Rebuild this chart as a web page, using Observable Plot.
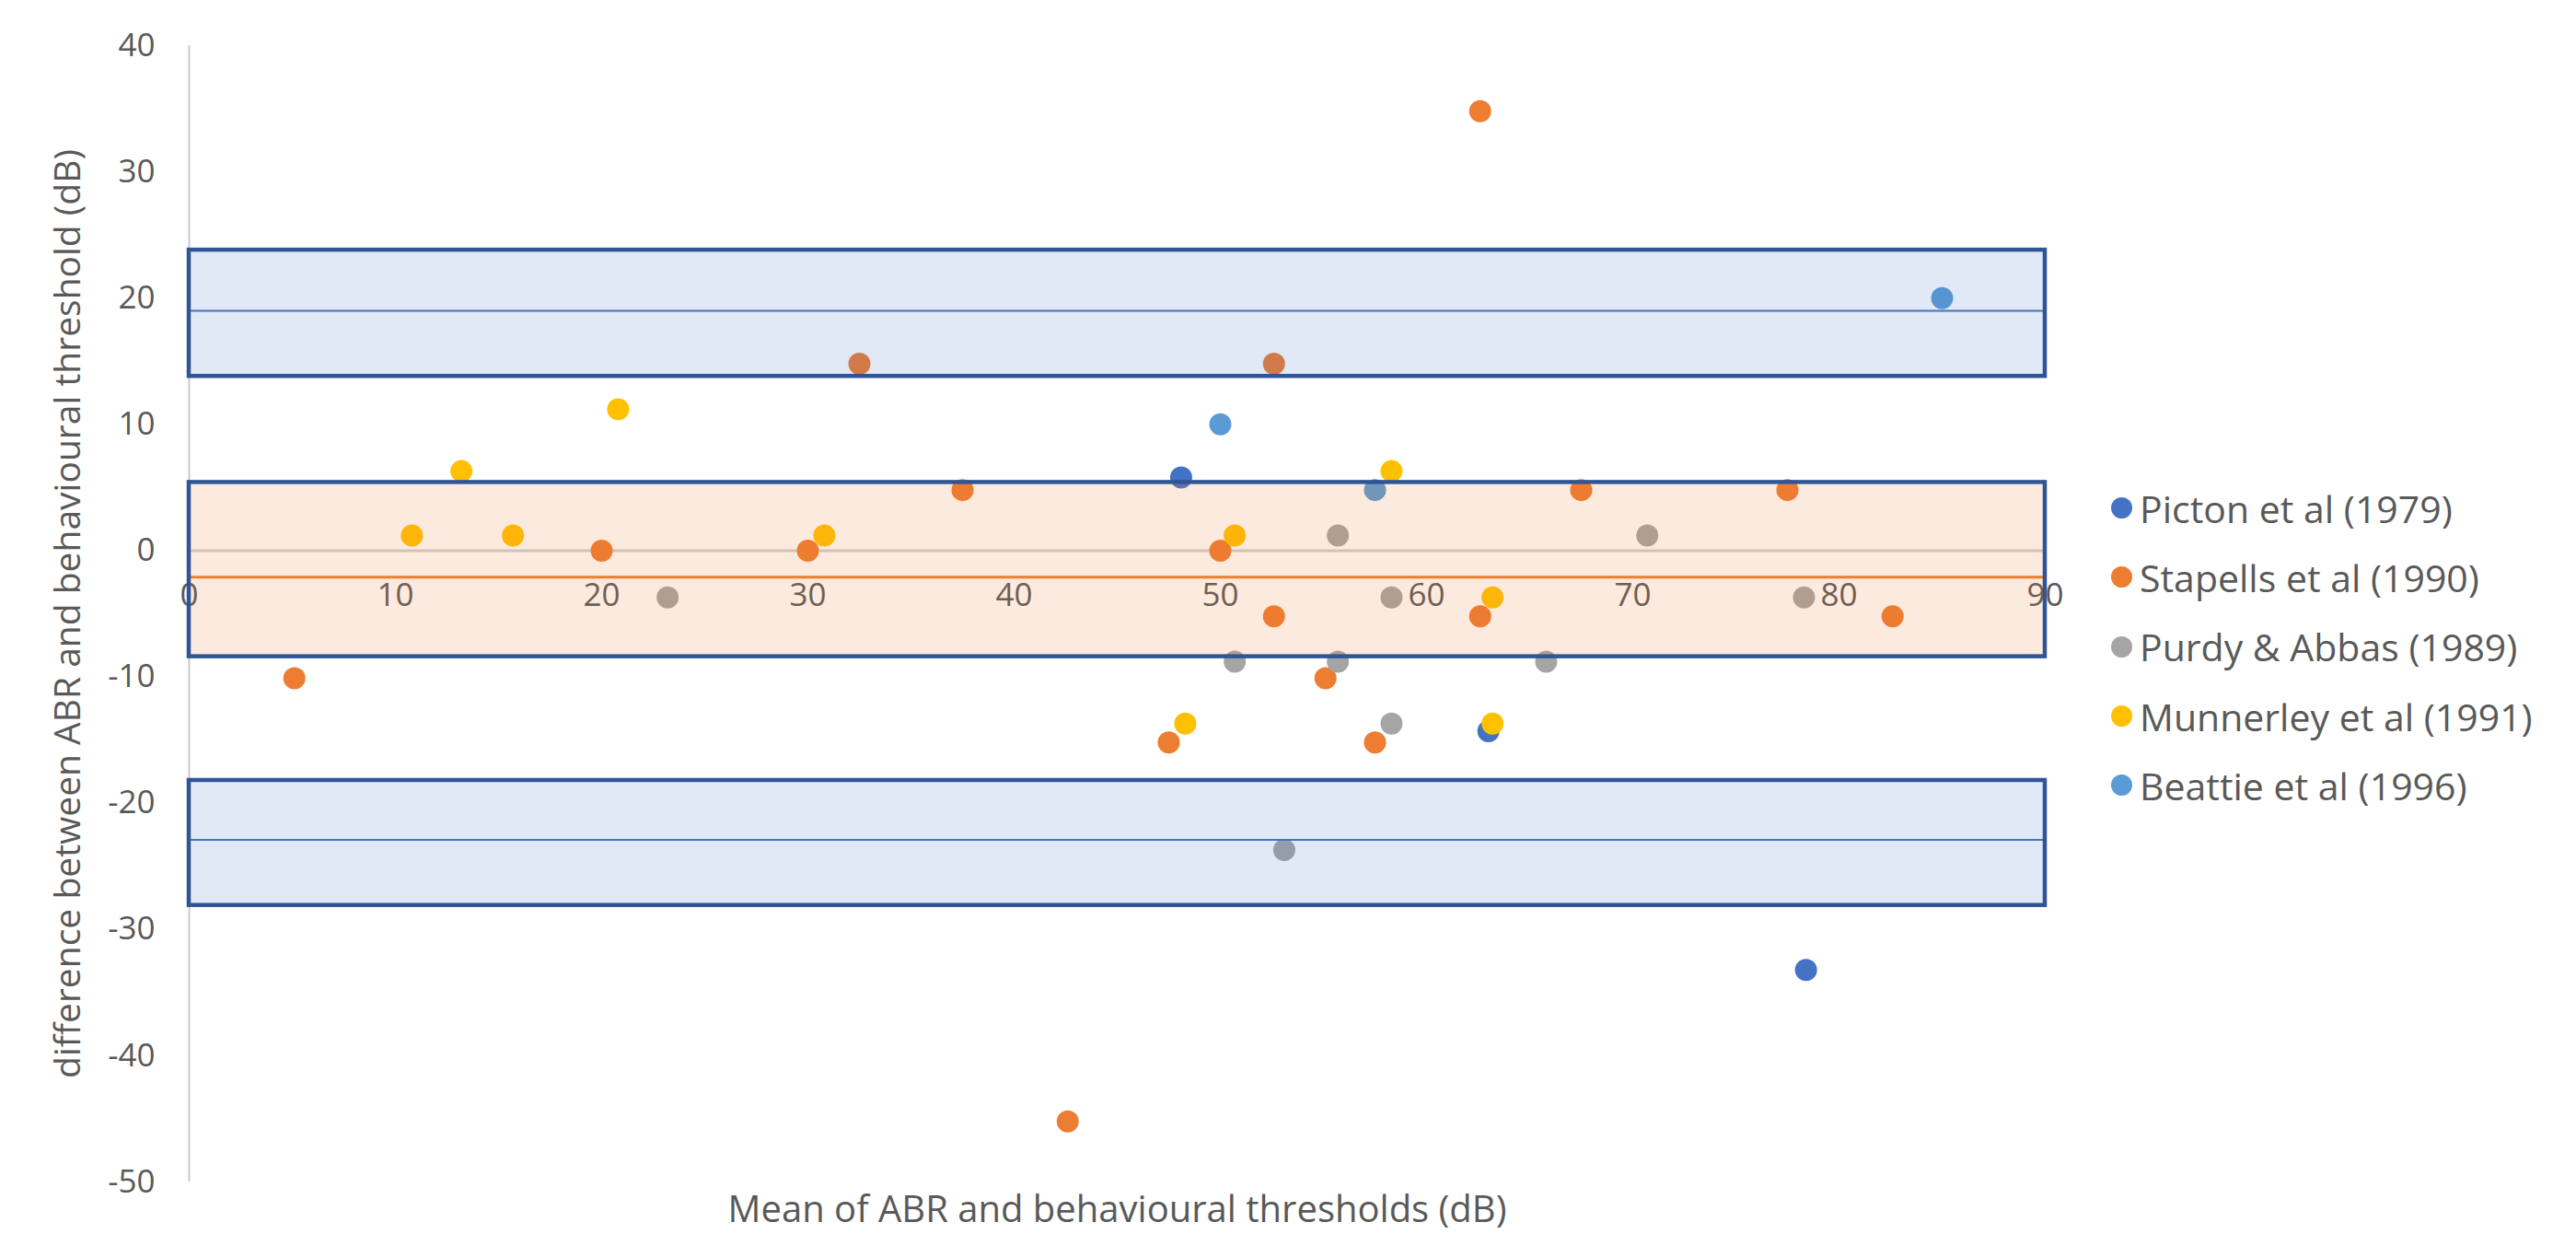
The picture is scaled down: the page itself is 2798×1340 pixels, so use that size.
<!DOCTYPE html>
<html>
<head>
<meta charset="utf-8">
<script src="https://cdn.jsdelivr.net/npm/d3@7"></script>
<script src="https://cdn.jsdelivr.net/npm/@observablehq/plot@0.6"></script>
<style>
html, body { margin: 0; padding: 0; background: #fff; }
#wrap { position: relative; width: 2798px; height: 1340px; overflow: hidden; font-family: "Open Sans", Lato, sans-serif; }
#legend { position: absolute; left: 2293px; top: 514px; }
.row { display: flex; align-items: center; height: 75.3px; font-size: 41px; color: #595959; white-space: nowrap; }
.sw { width: 23px; height: 23px; border-radius: 50%; margin-right: 8px; flex: none; }
</style>
</head>
<body>
<div id="wrap"><div id="chart"></div><div id="legend"></div></div>
<script>
// Series
const studies = ["Picton et al (1979)", "Stapells et al (1990)", "Purdy & Abbas (1989)", "Munnerley et al (1991)", "Beattie et al (1996)"];
const studyColors = ["#4472C4", "#ED7D31", "#A5A5A5", "#FFC000", "#5B9BD5"];

const pictonX = [48.1, 63.0, 78.4];
const pictonY = [5.8, -14.3, -33.2];
const stapellsX = [5.1, 20.0, 30.0, 32.5, 37.5, 42.6, 47.5, 50.0, 52.6, 52.6, 55.1, 57.5, 62.6, 62.6, 67.5, 77.5, 82.6];
const stapellsY = [-10.1, 0, 0, 14.8, 4.8, -45.2, -15.2, 0, 14.8, -5.2, -10.1, -15.2, 34.8, -5.2, 4.8, 4.8, -5.2];
const purdyX = [23.2, 50.7, 53.1, 55.7, 55.7, 58.3, 58.3, 65.8, 70.7, 78.3];
const purdyY = [-3.7, -8.8, -23.7, 1.2, -8.8, -3.7, -13.7, -8.8, 1.2, -3.7];
const munnerleyX = [10.8, 13.2, 15.7, 20.8, 30.8, 48.3, 50.7, 58.3, 63.2, 63.2];
const munnerleyY = [1.2, 6.3, 1.2, 11.2, 1.2, -13.7, 1.2, 6.3, -3.7, -13.7];
const beattieX = [50.0, 57.5, 85.0];
const beattieY = [10.0, 4.8, 20.0];

// Bland-Altman bands (mean difference and limits of agreement with their confidence bands)
const bandLabels = ["Upper limit of agreement", "Mean difference", "Lower limit of agreement"];
const bandKind = ["limit", "mean", "limit"];
const bandCentre = [19.0, -2.1, -22.9];
const bandLow = [13.8, -8.4, -28.1];
const bandHigh = [23.8, 5.4, -18.2];

// Axes
const xTicks = [0, 10, 20, 30, 40, 50, 60, 70, 80, 90];
const yTicks = [40, 30, 20, 10, 0, -10, -20, -30, -40, -50];
const xTitle = "Mean of ABR and behavioural thresholds (dB)";
const yTitle = "difference between ABR and behavioural threshold (dB)";

const seriesX = [pictonX, stapellsX, purdyX, munnerleyX, beattieX];
const seriesY = [pictonY, stapellsY, purdyY, munnerleyY, beattieY];
const points = [];
studies.forEach((s, i) => seriesX[i].forEach((x, j) => points.push({study: s, x, y: seriesY[i][j]})));
const bands = bandLabels.map((label, i) => ({label, kind: bandKind[i], centre: bandCentre[i], low: bandLow[i], high: bandHigh[i]}));
const limits = bands.filter(d => d.kind === "limit");
const means = bands.filter(d => d.kind === "mean");

const xMin = xTicks[0], xMax = xTicks[xTicks.length - 1];
const yMin = yTicks[yTicks.length - 1], yMax = yTicks[0];
const txt = "#595959";

const chart = Plot.plot({
  width: 2798,
  height: 1340,
  marginLeft: 205,
  marginRight: 577,
  marginTop: 49,
  marginBottom: 57,
  x: {domain: [xMin, xMax], axis: null},
  y: {domain: [yMin, yMax], axis: null},
  color: {domain: studies, range: studyColors},
  style: {fontFamily: "'Open Sans', Lato, sans-serif", background: "#fff", overflow: "visible"},
  marks: [
    Plot.ruleX([xMin], {y1: yMin, y2: yMax, stroke: "#c9c9c9", strokeWidth: 2}),
    Plot.ruleY([0], {x1: xMin, x2: xMax, stroke: "#cfcfcf", strokeWidth: 3}),
    Plot.text(yTicks, {x: xMin, y: d => d, text: d => String(d), dx: -37, textAnchor: "end", fontSize: 35, fill: txt}),
    Plot.text(xTicks, {x: d => d, y: 0, text: d => String(d), dy: 49, fontSize: 35, fill: txt}),
    Plot.dot(points, {x: "x", y: "y", fill: "study", r: 12}),
    Plot.rect(limits, {x1: xMin, x2: xMax, y1: "low", y2: "high", fill: "#4472C4", fillOpacity: 0.16}),
    Plot.rect(means, {x1: xMin, x2: xMax, y1: "low", y2: "high", fill: "#ED7D31", fillOpacity: 0.16}),
    Plot.ruleY(limits, {y: "centre", x1: xMin, x2: xMax, stroke: "#4472C4", strokeWidth: 2}),
    Plot.ruleY(means, {y: "centre", x1: xMin, x2: xMax, stroke: "#ED7D31", strokeWidth: 3}),
    Plot.rect(bands, {x1: xMin, x2: xMax, y1: "low", y2: "high", fill: "none", stroke: "#2F5597", strokeWidth: 4.5}),
    Plot.text([xTitle], {frameAnchor: "bottom", lineAnchor: "middle", dy: 31, fontSize: 40, fill: txt}),
    Plot.text([yTitle], {frameAnchor: "left", textAnchor: "middle", lineAnchor: "middle", dx: -131, rotate: -90, fontSize: 39, fill: txt})
  ]
});
document.getElementById("chart").appendChild(chart);

const legend = document.getElementById("legend");
studies.forEach((s, i) => {
  const row = document.createElement("div");
  row.className = "row";
  const sw = document.createElement("span");
  sw.className = "sw";
  sw.style.background = studyColors[i];
  const label = document.createElement("span");
  label.textContent = s;
  row.appendChild(sw);
  row.appendChild(label);
  legend.appendChild(row);
});
</script>
</body>
</html>
